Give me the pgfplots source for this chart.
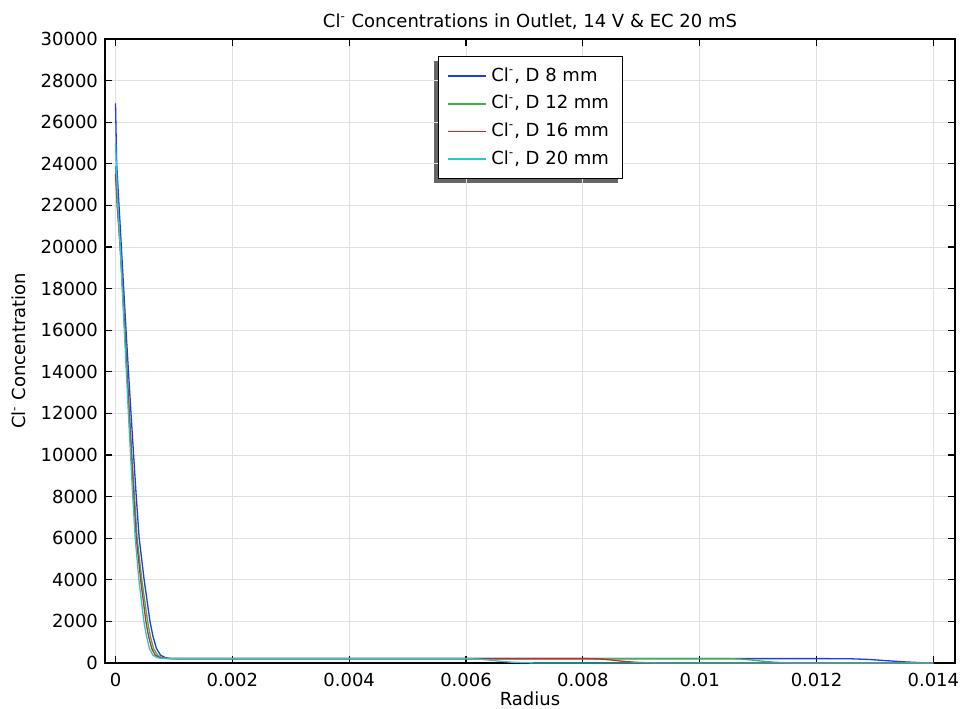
\documentclass[border=0pt]{standalone}
\usepackage{fontspec}
\setmainfont{DejaVu Sans}
\usepackage{pgfplots}
\pgfplotsset{compat=1.18}
\usetikzlibrary{backgrounds}
\definecolor{lineBlue}{RGB}{30,60,230}
\definecolor{lineGreen}{RGB}{60,180,75}
\definecolor{lineRed}{RGB}{205,40,40}
\definecolor{lineCyan}{RGB}{40,200,205}
\begin{document}
\begin{tikzpicture}[font=\fontsize{9}{11}\selectfont]
\path[use as bounding box] (-52.5pt,-22.5pt) rectangle (430pt,331.5pt);
\begin{axis}[
  at={(0,0)}, anchor=south west,
  scale only axis, width=425pt, height=312pt,
  xmin=-0.00018, xmax=0.01437, ymin=0, ymax=30000,
  xtick={0,0.002,0.004,0.006,0.008,0.01,0.012,0.014},
  xticklabels={0,0.002,0.004,0.006,0.008,0.01,0.012,0.014},
  ytick={0,2000,4000,6000,8000,10000,12000,14000,16000,18000,20000,22000,24000,26000,28000,30000},
  yticklabels={0,2000,4000,6000,8000,10000,12000,14000,16000,18000,20000,22000,24000,26000,28000,30000},
  scaled x ticks=false, scaled y ticks=false,
  /pgf/number format/assume math mode=true,
  tick align=inside, major tick length=3.5pt,
  tick style={black, line width=0.6pt},
  axis line style={black, line width=0.75pt},
  grid=major, major grid style={line width=0.5pt, draw=black!12},
  xticklabel style={yshift=-1.5pt},
  title={Cl\textsuperscript{-} Concentrations in Outlet, 14 V \& EC 20 mS},
  title style={yshift=-5pt},
  xlabel={Radius}, ylabel={Cl\textsuperscript{-} Concentration},
  xlabel style={at={(axis description cs:0.5,-0.0577)}, anchor=center},
  ylabel style={at={(axis description cs:-0.1012,0.5)}, anchor=center},
  legend cell align=left,
  legend style={name=leg, at={(0.392,0.9716)}, anchor=north west, draw=none, fill=white,
    inner xsep=4.5pt, inner ysep=3pt, row sep=0.85pt,
    nodes={inner sep=2pt, text height=7pt, text depth=2pt}},
  legend image code/.code={\draw[#1, line width=0.9pt] (0pt,0pt) -- (19pt,0pt);},
]
\addplot[color=lineBlue, line width=0.65pt, mark=none] coordinates {
(0,26900) (0.00002,24000) (0.00006,22000) (0.0001,20000) (0.00014,18000) (0.00018,16000)
(0.000222,14000) (0.000265,12000) (0.00031,10000) (0.000355,8000) (0.000405,6000)
(0.00049,4000) (0.00059,2000) (0.00064,1300) (0.0007,700) (0.00077,380) (0.00085,260)
(0.00095,215) (0.0011,210) (0.003,210) (0.006,210) (0.009,210) (0.0122,210) (0.0126,200)
(0.0129,170) (0.0132,110) (0.0135,55) (0.0138,15) (0.014,0)};
\addlegendentry{Cl\textsuperscript{-}, D 8 mm}
\addplot[color=lineGreen, line width=0.65pt, mark=none] coordinates {
(0,23900) (0.00003,22000) (0.00008,20000) (0.000122,18000) (0.000162,16000) (0.0002,14000)
(0.00024,12000) (0.00028,10000) (0.000325,8000) (0.00037,6000) (0.00045,4000)
(0.00055,2000) (0.000595,1300) (0.00065,700) (0.00072,380) (0.00079,260) (0.00088,215)
(0.00105,210) (0.004,210) (0.008,210) (0.0105,210) (0.0107,190) (0.0109,140) (0.0111,80)
(0.0113,35) (0.0115,10) (0.0118,0) (0.014,0)};
\addlegendentry{Cl\textsuperscript{-}, D 12 mm}
\addplot[color=lineRed, line width=0.65pt, mark=none] coordinates {
(0,23500) (0.00003,22000) (0.00008,20000) (0.00012,18000) (0.000158,16000) (0.000195,14000)
(0.000233,12000) (0.000272,10000) (0.000312,8000) (0.000355,6000) (0.00043,4000)
(0.00052,2000) (0.000565,1300) (0.00062,700) (0.00068,380) (0.00075,260) (0.00084,215)
(0.001,210) (0.004,210) (0.0081,210) (0.0083,190) (0.0085,140) (0.0087,80) (0.0089,35)
(0.0091,10) (0.0094,0) (0.014,0)};
\addlegendentry{Cl\textsuperscript{-}, D 16 mm}
\addplot[color=lineCyan, line width=0.65pt, mark=none] coordinates {
(0,25000) (0.00001,24200) (0.00004,22000) (0.00008,20000) (0.000115,18000) (0.00015,16000)
(0.000185,14000) (0.00022,12000) (0.000258,10000) (0.000295,8000) (0.000337,6000)
(0.0004,4000) (0.000485,2000) (0.00053,1300) (0.00058,700) (0.00064,380) (0.00071,260)
(0.0008,215) (0.00095,210) (0.003,210) (0.006,210) (0.0062,190) (0.0064,140) (0.0066,80)
(0.0068,35) (0.007,10) (0.0073,0) (0.014,0)};
\addlegendentry{Cl\textsuperscript{-}, D 20 mm}
\end{axis}
\draw[black, line width=0.65pt] (leg.south west) rectangle (leg.north east);
\begin{scope}[on background layer]
\fill[black!60] ([shift={(-2pt,-2pt)}]leg.south west) rectangle ([shift={(-2pt,-2pt)}]leg.north east);
\end{scope}
\end{tikzpicture}
\end{document}
